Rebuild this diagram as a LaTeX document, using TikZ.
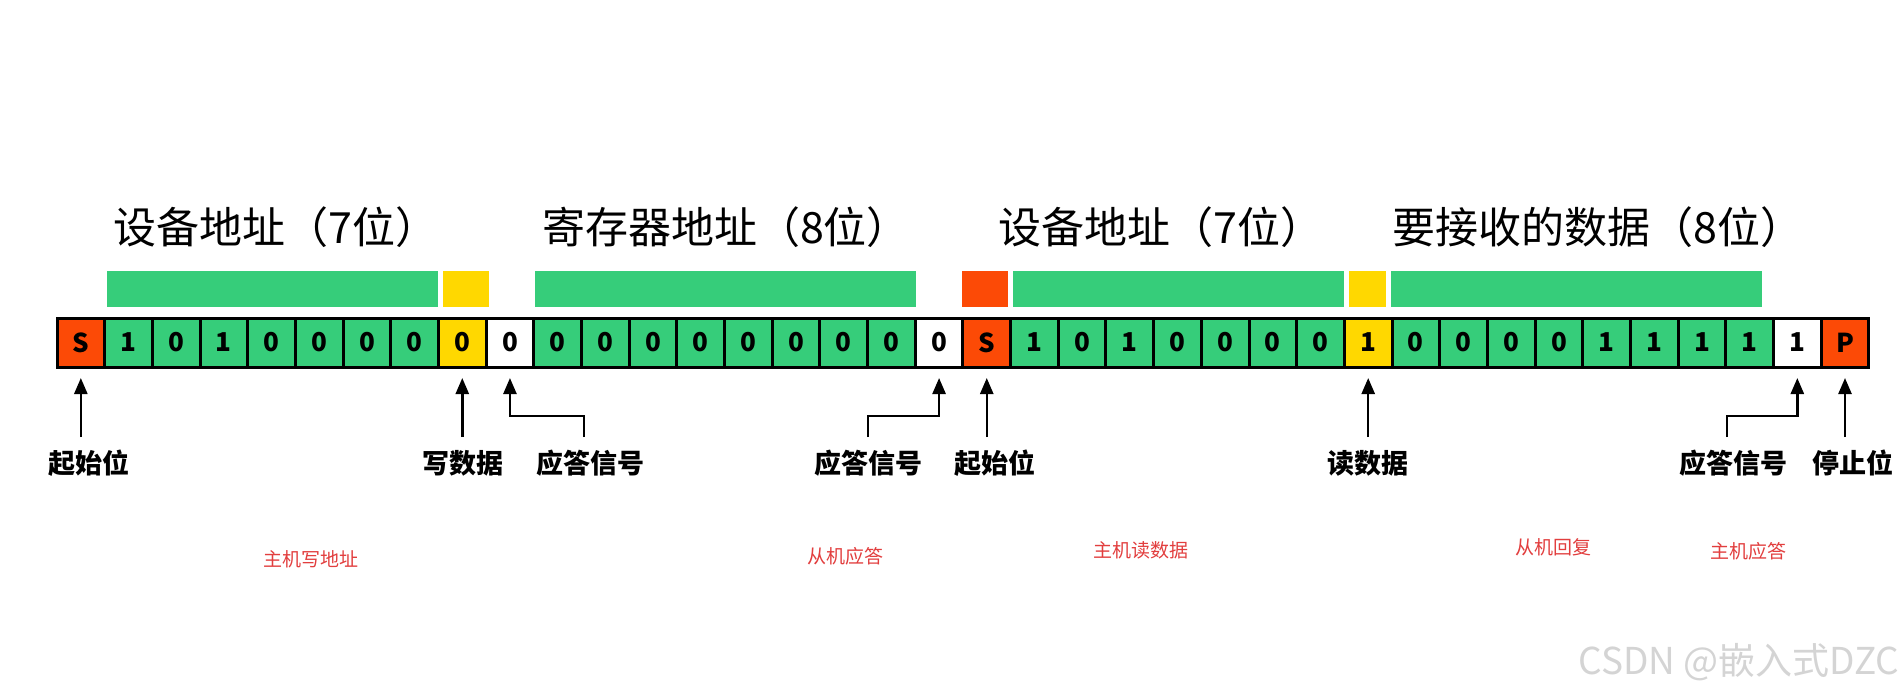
\documentclass[tikz,border=0pt]{standalone}
\usepackage{fontspec}
\setmainfont{Noto Sans CJK SC}
\usetikzlibrary{arrows.meta}
\definecolor{gr}{HTML}{36CD7A}
\definecolor{rd}{HTML}{FC4A06}
\definecolor{yl}{HTML}{FFD800}
\definecolor{wh}{HTML}{FFFFFF}
\definecolor{annoc}{HTML}{E23E3E}
\definecolor{wmark}{HTML}{D4D4D4}
\begin{document}
\begin{tikzpicture}[x=1pt,y=-1pt,
  bitcell/.style={draw=black, line width=3pt, minimum width=47.68pt, minimum height=49pt,
    inner sep=0pt, outer sep=0pt, font=\bfseries\fontsize{26}{26}\selectfont},
  ttl/.style={font=\fontsize{43}{43}\selectfont, inner sep=0pt},
  botlab/.style={font=\bfseries\fontsize{27}{27}\selectfont, inner sep=0pt, anchor=north},
  annot/.style={font=\fontsize{19}{19}\selectfont, text=annoc, inner sep=0pt},
  arrw/.style={line width=2.5pt, -{Triangle[width=13pt,length=16pt]}, shorten >=11pt}
]
\useasboundingbox (0,0) rectangle (1904,694);
\fill[white] (0,0) rectangle (1904,694);

% titles
\node[ttl] (t1) at (276,227) {设备地址（7位）};
\node[ttl] (t2) at (726,227) {寄存器地址（8位）};
\node[ttl] (t3) at (1161,227) {设备地址（7位）};
\node[ttl] (t4) at (1598,227) {要接收的数据（8位）};

% upper bars
\fill[gr] (107,271) rectangle (438,307);
\fill[yl] (443,271) rectangle (489,307);
\fill[gr] (535,271) rectangle (916,307);
\fill[rd] (962,271) rectangle (1008,307);
\fill[gr] (1013,271) rectangle (1344,307);
\fill[yl] (1349,271) rectangle (1386,307);
\fill[gr] (1391,271) rectangle (1762,307);

% bit cells
\foreach \i/\f/\t in {0/rd/S,1/gr/1,2/gr/0,3/gr/1,4/gr/0,5/gr/0,6/gr/0,7/gr/0,8/yl/0,9/wh/0,
  10/gr/0,11/gr/0,12/gr/0,13/gr/0,14/gr/0,15/gr/0,16/gr/0,17/gr/0,18/wh/0,19/rd/S,
  20/gr/1,21/gr/0,22/gr/1,23/gr/0,24/gr/0,25/gr/0,26/gr/0,27/yl/1,
  28/gr/0,29/gr/0,30/gr/0,31/gr/0,32/gr/1,33/gr/1,34/gr/1,35/gr/1,36/wh/1,37/rd/P}
  \node[bitcell, fill=\f] (c\i) at ({57+(\i+0.5)*47.68},342.5) {\t};

% bottom labels
\node[botlab] (l1) at (89,450) {起始位};
\node[botlab] (l2) at (463,450) {写数据};
\node[botlab] (l3) at (590,450) {应答信号};
\node[botlab] (l4) at (868,450) {应答信号};
\node[botlab] (l5) at (995,450) {起始位};
\node[botlab] (l6) at (1368,450) {读数据};
\node[botlab] (l7) at (1733,450) {应答信号};
\node[botlab] (l8) at (1853,450) {停止位};

% arrows
\coordinate (b3) at (584,437);
\coordinate (b4) at (868,437);
\coordinate (b7) at (1727,437);
\draw[arrw] (c0.south |- 0,437) -- (c0.south);
\draw[arrw] (c8.south |- 0,437) -- (c8.south);
\draw[arrw] (b3) |- (c9.south |- 0,416) -- (c9.south);
\draw[arrw] (b4) |- (c18.south |- 0,416) -- (c18.south);
\draw[arrw] (c19.south |- 0,437) -- (c19.south);
\draw[arrw] (c27.south |- 0,437) -- (c27.south);
\draw[arrw] (b7) |- (c36.south |- 0,416) -- (c36.south);
\draw[arrw] (c37.south |- 0,437) -- (c37.south);

% annotations
\node[annot] (a1) at (310.5,559) {主机写地址};
\node[annot] (a2) at (845.6,556) {从机应答};
\node[annot] (a3) at (1141,550) {主机读数据};
\node[annot] (a4) at (1553,547) {从机回复};
\node[annot] (a5) at (1748,551) {主机应答};

% watermark
\node[font=\fontsize{37}{37}\selectfont, text=wmark, inner sep=0pt] (wm) at (1739,662) {CSDN @嵌入式DZC};
\end{tikzpicture}
\end{document}
